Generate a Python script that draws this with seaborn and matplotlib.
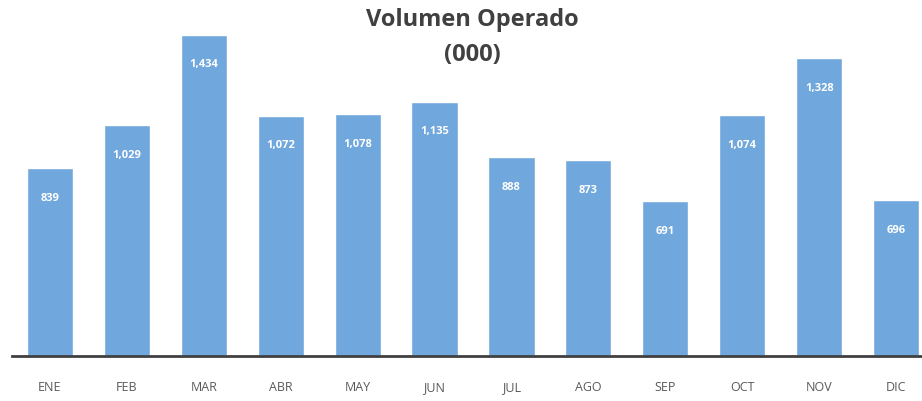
import matplotlib
matplotlib.use("Agg")
import matplotlib.pyplot as plt
import seaborn as sns
import pandas as pd

# Monthly traded volume (thousands)
meses = ["ENE", "FEB", "MAR", "ABR", "MAY", "JUN", "JUL", "AGO", "SEP", "OCT", "NOV", "DIC"]
volumen = [839, 1029, 1434, 1072, 1078, 1135, 888, 873, 691, 1074, 1328, 696]

df = pd.DataFrame({"mes": meses, "volumen": volumen})

sns.set_style("white")
plt.rcParams["font.family"] = ["Open Sans", "DejaVu Sans"]

fig = plt.figure(figsize=(9.22, 4.02), dpi=100)
# axes stretches a bit past the right edge like the cropped original
ax = fig.add_axes([11.5 / 922, 45 / 402, 923 / 922, 1600 * 0.2241 / 402])

sns.barplot(data=df, x="mes", y="volumen", color="#70A7DC", saturation=1,
            width=0.6, ax=ax)

for p, v in zip(ax.patches, volumen):
    ax.annotate(f"{v:,}", (p.get_x() + p.get_width() / 2, p.get_height()),
                xytext=(0, -21), textcoords="offset points",
                ha="center", va="center", color="white",
                fontsize=8, fontweight="bold")

ax.set_xlim(-0.5, 11.5)
ax.set_ylim(0, 1600)
ax.set_xlabel("")
ax.set_ylabel("")
ax.set_yticks([])
for s in ["top", "right", "left"]:
    ax.spines[s].set_visible(False)
ax.spines["bottom"].set_color("#404040")
ax.spines["bottom"].set_linewidth(2)
ax.tick_params(axis="x", length=0, pad=17, labelsize=9, labelcolor="#595959")

fig.text(0.512, 0.95, "Volumen Operado", ha="center", va="center",
         fontsize=17, fontweight="bold", color="#404040")
fig.text(0.512, 0.862, "(000)", ha="center", va="center",
         fontsize=17, fontweight="bold", color="#404040")

fig.savefig("out.png", dpi=100)
